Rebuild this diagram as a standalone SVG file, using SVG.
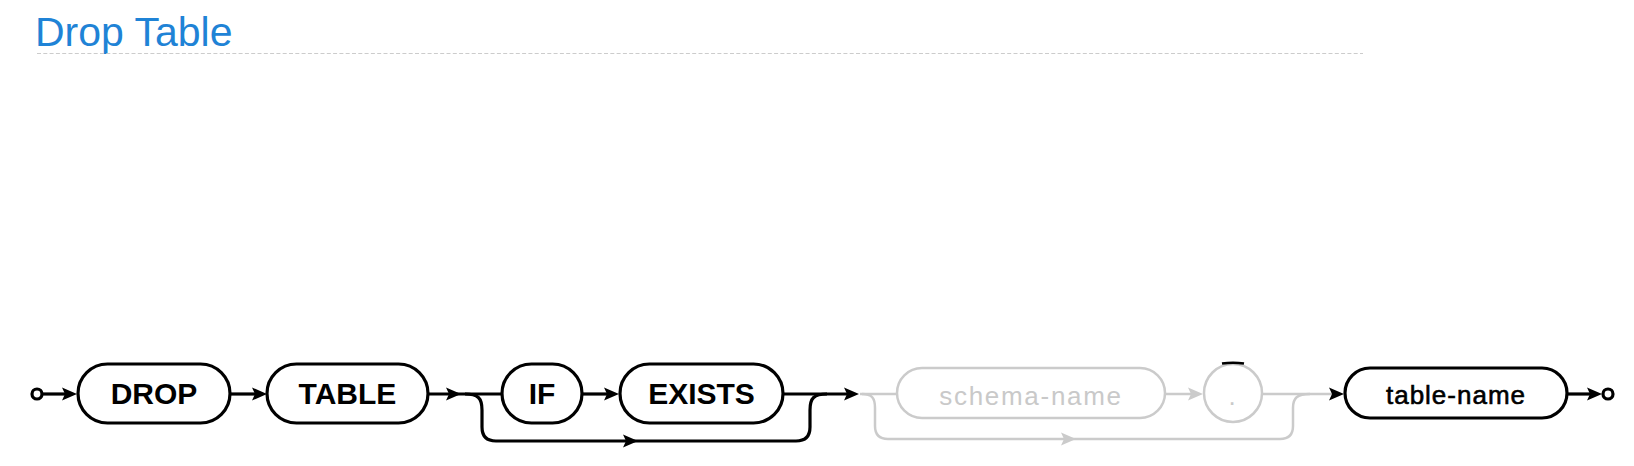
<svg xmlns="http://www.w3.org/2000/svg" xmlns:xlink="http://www.w3.org/1999/xlink" width="1634" height="466" viewBox="0 0 1634 466">
<style>
.title{font-family:"Liberation Sans",Arial,sans-serif;font-size:41px;fill:#1f83d6}
.kw{font-family:"Liberation Sans",Arial,sans-serif;font-size:30px;font-weight:bold;fill:#000;text-anchor:middle}
.nm{font-family:"Liberation Sans",Arial,sans-serif;font-size:26px;fill:#000;stroke:#000;stroke-width:0.6;text-anchor:middle;letter-spacing:1px}
.gnm{font-family:"Liberation Sans",Arial,sans-serif;font-size:26px;fill:#c9c9c9;text-anchor:middle;letter-spacing:1.7px}
.box{fill:#fff;stroke:#000;stroke-width:3.2}
.gbox{fill:#fff;stroke:#cbcbcb;stroke-width:2.5}
.ln{fill:none;stroke:#000;stroke-width:3.2}
.gln{fill:none;stroke:#cbcbcb;stroke-width:2.5}
.term{fill:#fff;stroke:#000;stroke-width:3.2}
</style>
<defs>
<path id="ah" d="M0,0 L-15,-6.5 L-12,0 L-15,6.5 Z"/>
</defs>
<rect width="1634" height="466" fill="#fff"/>
<g id="title">
<text class="title" x="35" y="46">Drop Table</text>
<line x1="37" y1="53.5" x2="1363" y2="53.5" stroke="#cccccc" stroke-width="1" stroke-dasharray="4 2.3"/>
</g>
<g id="connectors">
<line class="ln" x1="42" y1="394" x2="68" y2="394"/>
<use xlink:href="#ah" x="77" y="394" fill="#000"/>
<line class="ln" x1="230" y1="394" x2="258" y2="394"/>
<use xlink:href="#ah" x="267" y="394" fill="#000"/>
<line class="ln" x1="428" y1="394" x2="502" y2="394"/>
<use xlink:href="#ah" x="461" y="394" fill="#000"/>
<line class="ln" x1="582" y1="394" x2="610" y2="394"/>
<use xlink:href="#ah" x="619" y="394" fill="#000"/>
<line class="ln" x1="783" y1="394" x2="850" y2="394"/>
<use xlink:href="#ah" x="859" y="394" fill="#000"/>
<path class="ln" d="M465 394 C478 394 482 398 482 410 L482 427 Q482 441 496 441 L796 441 Q810 441 810 427 L810 410 C810 398 814 394 827 394"/>
<use xlink:href="#ah" x="638" y="441" fill="#000"/>
<line class="gln" x1="860" y1="394" x2="897" y2="394"/>
<path class="gln" d="M862 394 C872 394 875 398 875 408 L875 426 Q875 439 888 439 L1280 439 Q1293 439 1293 426 L1293 408 C1293 398 1297 394 1310 394"/>
<use xlink:href="#ah" x="1076" y="439" fill="#cbcbcb"/>
<line class="gln" x1="1165" y1="394" x2="1194" y2="394"/>
<use xlink:href="#ah" x="1203" y="394" fill="#cbcbcb"/>
<line class="gln" x1="1262" y1="394" x2="1332" y2="394"/>
<use xlink:href="#ah" x="1344" y="394" fill="#000"/>
<line class="ln" x1="1567" y1="394" x2="1594" y2="394"/>
<use xlink:href="#ah" x="1602" y="394" fill="#000"/>
</g>
<g id="start"><circle class="term" cx="37" cy="394" r="5"/></g>
<g id="drop"><rect class="box" x="78" y="364" width="152" height="59" rx="29.5"/><text class="kw" x="154" y="404">DROP</text></g>
<g id="table"><rect class="box" x="267" y="364" width="161" height="59" rx="29.5"/><text class="kw" x="347.5" y="404">TABLE</text></g>
<g id="if"><rect class="box" x="502" y="364" width="80" height="59" rx="29.5"/><text class="kw" x="542" y="404">IF</text></g>
<g id="exists"><rect class="box" x="620" y="364" width="163" height="59" rx="29.5"/><text class="kw" x="701.5" y="404">EXISTS</text></g>
<g id="schema-name"><rect class="gbox" x="897" y="368" width="268" height="50" rx="25"/><text class="gnm" x="1031" y="405">schema-name</text></g>
<g id="dot"><circle class="gbox" cx="1233" cy="393" r="29"/><text class="gnm" x="1233" y="405">.</text><path d="M1222 363.6 Q1233 361.8 1244 363.6" fill="none" stroke="#000" stroke-width="2.5"/></g>
<g id="table-name"><rect class="box" x="1345" y="368" width="222" height="50" rx="25"/><text class="nm" x="1456" y="404">table-name</text></g>
<g id="end"><circle class="term" cx="1608" cy="394" r="5"/></g>
</svg>
